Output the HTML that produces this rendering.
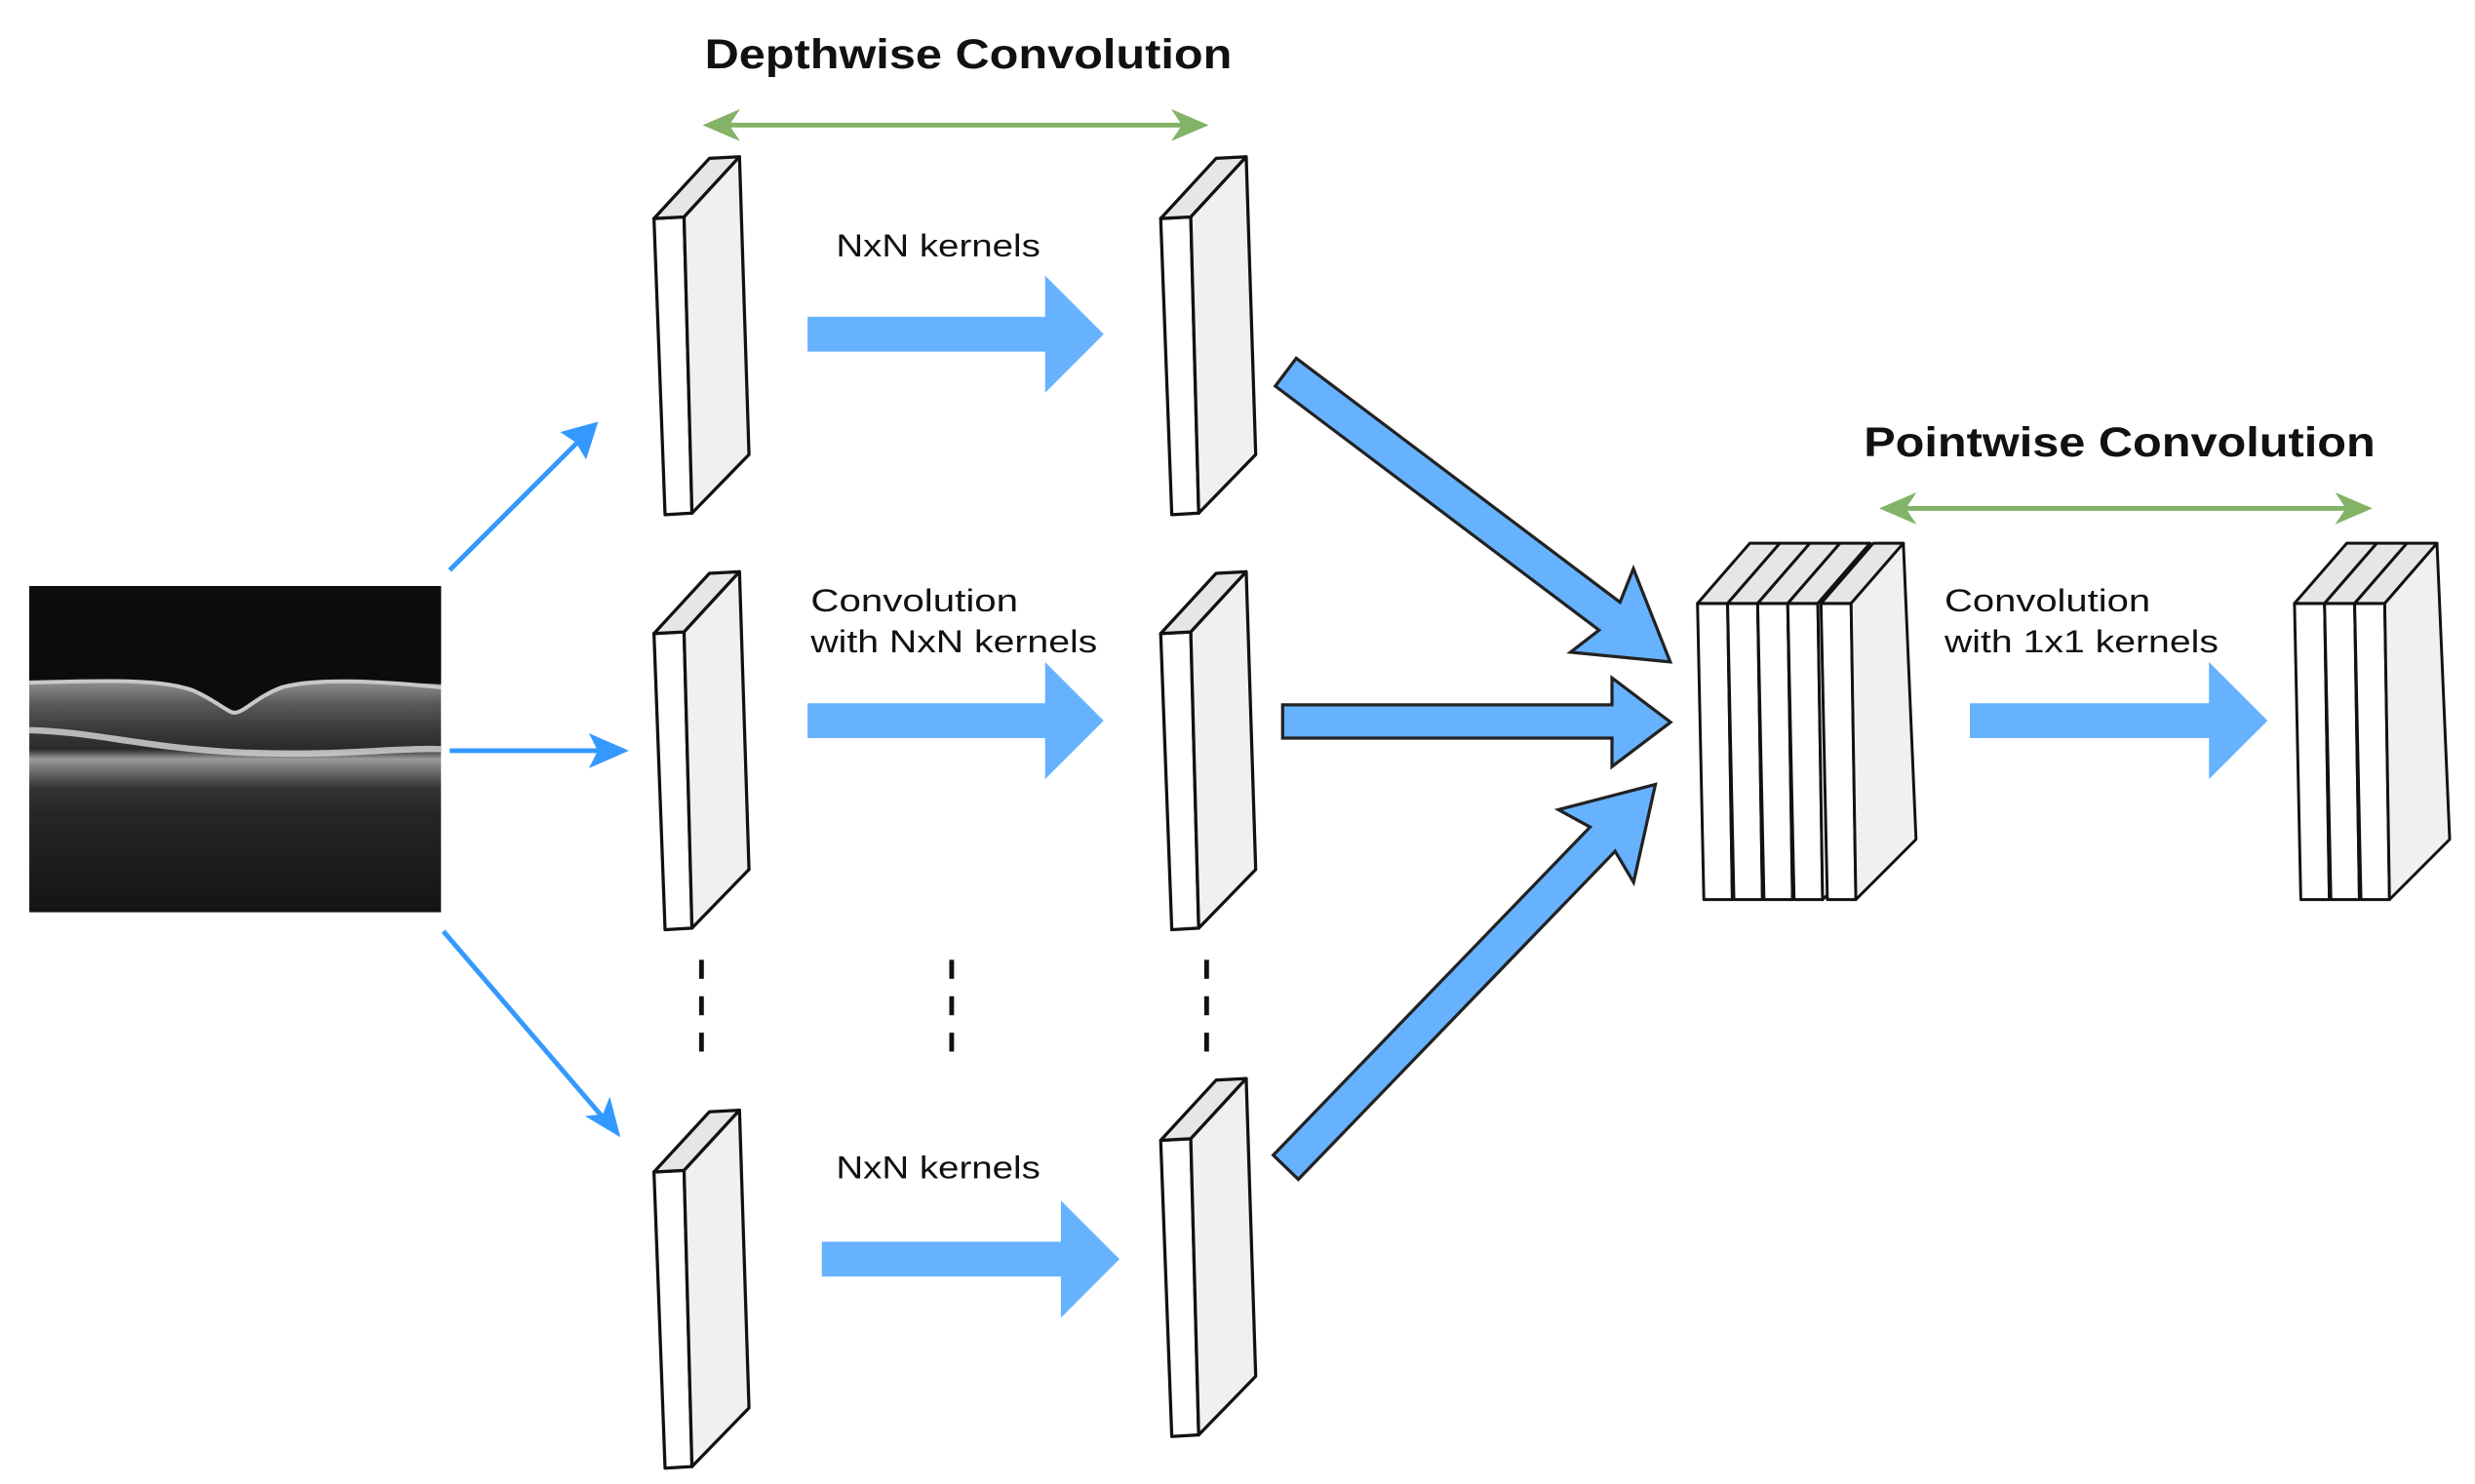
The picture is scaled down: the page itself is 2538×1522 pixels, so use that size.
<!DOCTYPE html>
<html><head><meta charset="utf-8"><style>
html,body{margin:0;padding:0;background:#fff;}
svg{display:block;}
text{font-family:"Liberation Sans",Arial,sans-serif;fill:#111;}
</style></head><body>
<svg width="2538" height="1522" viewBox="0 0 1563 937" preserveAspectRatio="none" xmlns="http://www.w3.org/2000/svg">
<defs>
<g id="slab">
  <polygon points="0,0 19,-1 24,186 7,187" fill="#fff" stroke="#111" stroke-width="2" stroke-linejoin="round"/>
  <polygon points="0,0 19,-1 54,-39 35,-38" fill="#e6e6e6" stroke="#111" stroke-width="2" stroke-linejoin="round"/>
  <polygon points="19,-1 54,-39 60,149 24,186" fill="#f0f0f0" stroke="#111" stroke-width="2" stroke-linejoin="round"/>
</g>
<g id="pslab">
  <polygon points="0,0 19,0 22,187 4,187" fill="#fff" stroke="#111" stroke-width="1.8" stroke-linejoin="round"/>
  <polygon points="0,0 19,0 52,-38 33,-38" fill="#e6e6e6" stroke="#111" stroke-width="1.8" stroke-linejoin="round"/>
  <polygon points="19,0 52,-38 60,149 22,187" fill="#f0f0f0" stroke="#111" stroke-width="1.8" stroke-linejoin="round"/>
</g>
<linearGradient id="oct" x1="0" y1="0" x2="0" y2="1">
  <stop offset="0" stop-color="#0c0c0c"/>
  <stop offset="0.28" stop-color="#0e0e0e"/>
  <stop offset="0.3" stop-color="#8a8a8a"/>
  <stop offset="0.36" stop-color="#5a5a5a"/>
  <stop offset="0.44" stop-color="#3a3a3a"/>
  <stop offset="0.5" stop-color="#2a2a2a"/>
  <stop offset="0.53" stop-color="#9a9a9a"/>
  <stop offset="0.57" stop-color="#6a6a6a"/>
  <stop offset="0.62" stop-color="#333"/>
  <stop offset="0.7" stop-color="#262626"/>
  <stop offset="1" stop-color="#141414"/>
</linearGradient>
</defs>

<rect x="18.5" y="370" width="260" height="206" fill="url(#oct)"/>
<path d="M18.5,370 H278.5 V432 C230,430 200,428 175,436 C160,442 152,450 148,450 C142,450 135,440 120,434 C95,428 50,430 18.5,430 Z" fill="#0c0c0c"/>
<path d="M18.5,431 C60,430 100,428 122,436 C136,442 144,450 148,450 C154,450 162,440 178,434 C200,428 240,430 278.5,434" stroke="#c8c8c8" stroke-width="2.5" fill="none"/>
<path d="M18.5,461 C60,462 90,472 150,475 C210,478 250,472 278.5,473" stroke="#d0d0d0" stroke-width="4" fill="none" opacity="0.85"/>

<text x="445" y="43" font-size="26" font-weight="bold" textLength="333" lengthAdjust="spacingAndGlyphs">Depthwise Convolution</text>
<text x="1177" y="288" font-size="26" font-weight="bold" textLength="323" lengthAdjust="spacingAndGlyphs">Pointwise Convolution</text>

<g stroke="#82b366" stroke-width="3" fill="#82b366">
  <line x1="452" y1="79" x2="755" y2="79"/>
  <polygon points="445,79 466,70 460,79 466,88" stroke-width="1"/>
  <polygon points="762,79 741,70 747,79 741,88" stroke-width="1"/>
  <line x1="1195" y1="321" x2="1490" y2="321"/>
  <polygon points="1188,321 1209,312 1203,321 1209,330" stroke-width="1"/>
  <polygon points="1497,321 1476,312 1482,321 1476,330" stroke-width="1"/>
</g>

<g stroke="#3399ff" stroke-width="3" fill="#3399ff">
  <line x1="284" y1="360" x2="368" y2="276"/>
  <polygon points="377,267 370,289 364,279 355,273" stroke-width="1"/>
  <line x1="284" y1="474" x2="385" y2="474"/>
  <polygon points="396,474 373,464 378,474 373,484" stroke-width="1"/>
  <line x1="280" y1="588" x2="382" y2="707"/>
  <polygon points="391,717 371,705 381,704 385,694" stroke-width="1"/>
</g>

<use href="#slab" x="413" y="138"/>
<use href="#slab" x="413" y="400"/>
<use href="#slab" x="413" y="740"/>
<use href="#slab" x="733" y="138"/>
<use href="#slab" x="733" y="400"/>
<use href="#slab" x="733" y="720"/>

<g stroke="#111" stroke-width="3" stroke-dasharray="12,11">
  <line x1="443" y1="606" x2="443" y2="664"/>
  <line x1="601" y1="606" x2="601" y2="664"/>
  <line x1="762" y1="606" x2="762" y2="664"/>
</g>

<g fill="#66b2ff">
  <polygon points="510,200 660,200 660,174 697,211 660,248 660,222 510,222"/>
  <polygon points="510,444 660,444 660,418 697,455 660,492 660,466 510,466"/>
  <polygon points="519,784 670,784 670,758 707,795 670,832 670,806 519,806"/>
  <polygon points="1244,444 1395,444 1395,418 1432,455 1395,492 1395,466 1244,466"/>
</g>

<g font-size="20">
  <text x="528" y="162" textLength="129" lengthAdjust="spacingAndGlyphs">NxN kernels</text>
  <text x="512" y="386" textLength="131" lengthAdjust="spacingAndGlyphs">Convolution</text>
  <text x="512" y="412" textLength="181" lengthAdjust="spacingAndGlyphs">with NxN kernels</text>
  <text x="528" y="744" textLength="129" lengthAdjust="spacingAndGlyphs">NxN kernels</text>
  <text x="1228" y="386" textLength="130" lengthAdjust="spacingAndGlyphs">Convolution</text>
  <text x="1228" y="412" textLength="173" lengthAdjust="spacingAndGlyphs">with 1x1 kernels</text>
</g>

<g fill="#66b2ff" stroke="#222" stroke-width="2" stroke-linejoin="miter">
  <g transform="translate(812,235) rotate(37)">
    <polygon points="0,-11 256,-11 250,-33 304,0 250,33 256,11 0,11"/>
  </g>
  <polygon points="810,445 1018,445 1018,428 1055,456 1018,484 1018,466 810,466"/>
  <g transform="translate(812,737) rotate(-46)">
    <polygon points="0,-11 288,-11 282,-33 336,0 282,33 288,11 0,11"/>
  </g>
</g>

<use href="#pslab" x="1072" y="381"/>
<use href="#pslab" x="1091" y="381"/>
<use href="#pslab" x="1110" y="381"/>
<use href="#pslab" x="1129" y="381"/>
<use href="#pslab" x="1150" y="381"/>

<use href="#pslab" x="1449" y="381"/>
<use href="#pslab" x="1468" y="381"/>
<use href="#pslab" x="1487" y="381"/>
</svg>
</body></html>
